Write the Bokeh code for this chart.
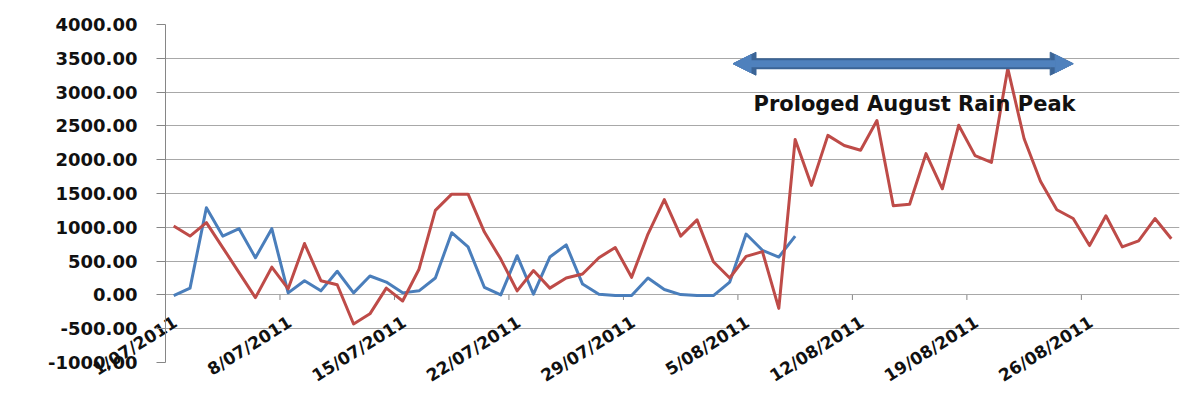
import math
from bokeh.plotting import figure
from bokeh.models import (Range1d, FixedTicker, NumeralTickFormatter, LinearAxis,
                          Label, Arrow, NormalHead)
from bokeh.embed import file_html
from bokeh.resources import INLINE

# ---- data ----
dates = [f"{d}/07/2011" for d in range(1, 32)] + [f"{d}/08/2011" for d in range(1, 32)]
blue_vals = [-10, 100, 1290, 870, 980, 550, 980, 30, 210, 60, 350, 30, 280, 190, 30, 60,
             250, 920, 710, 110, 0, 580, 10, 560, 740, 160, 10, -10, -10, 250, 80, 5,
             -10, -10, 190, 900, 660, 560, 870]
red_vals = [1020, 870, 1070, 700, 330, -40, 410, 90, 760, 210, 150, -430, -280, 100, -90,
            380, 1250, 1490, 1490, 930, 530, 60, 360, 100, 250, 310, 550, 700, 260, 900,
            1410, 870, 1110, 490, 250, 570, 640, -200, 2300, 1620, 2360, 2210, 2140, 2580,
            1320, 1340, 2090, 1570, 2510, 2060, 1960, 3350, 2310, 1680, 1260, 1130, 730,
            1170, 710, 800, 1130, 830]
x_tick_labels = ["1/07/2011", "8/07/2011", "15/07/2011", "22/07/2011", "29/07/2011",
                 "5/08/2011", "12/08/2011", "19/08/2011", "26/08/2011"]
y_ticks = [-1000, -500, 0, 500, 1000, 1500, 2000, 2500, 3000, 3500, 4000]
annotation_text = "Prologed August Rain Peak"

# category positions
idx_blue = list(range(len(blue_vals)))
idx_red = list(range(len(red_vals)))
n = len(dates)
tick_pos = [dates.index(lbl) - 0.5 for lbl in x_tick_labels]
label_shift = 0.6  # labels sit slightly right of the category boundary
label_pos = [t + label_shift for t in tick_pos]

BLUE = "#4a7ebb"
RED = "#be4b48"
GRID = "#a8a8a8"
FONT = "DejaVu Sans"

p = figure(width=1190, height=397,
           x_range=Range1d(-0.5, n - 0.5), y_range=Range1d(y_ticks[0], y_ticks[-1]),
           output_backend="svg", toolbar_location=None, x_axis_location=None,
           min_border_left=165, min_border_right=11, min_border_top=24, min_border_bottom=34)
p.outline_line_color = None
p.background_fill_color = "white"

yt = FixedTicker(ticks=y_ticks)
p.yaxis.ticker = yt
p.yaxis.formatter = NumeralTickFormatter(format="0.00")
p.yaxis.axis_line_color = "#868686"
p.yaxis.major_tick_line_color = "#868686"
p.yaxis.major_tick_out = 9
p.yaxis.major_tick_in = 0
p.yaxis.minor_tick_line_color = None
p.yaxis.major_label_standoff = 19
p.yaxis.major_label_text_font = FONT
p.yaxis.major_label_text_font_style = "bold"
p.yaxis.major_label_text_font_size = "18px"
p.yaxis.major_label_text_color = "#111111"

# bottom axis carrying only the rotated date labels
xax = LinearAxis(ticker=FixedTicker(ticks=label_pos),
                 major_label_overrides={lp: t for lp, t in zip(label_pos, x_tick_labels)},
                 major_label_orientation=32 * math.pi / 180,
                 major_label_standoff=-42,
                 axis_line_color=None, major_tick_line_color=None,
                 minor_tick_line_color=None,
                 major_tick_in=0, major_tick_out=0,
                 major_label_text_font=FONT, major_label_text_font_style="bold",
                 major_label_text_font_size="17px", major_label_text_color="#111111")
p.add_layout(xax, "below")

p.xgrid.visible = False
p.ygrid.ticker = yt
p.ygrid.grid_line_color = GRID
p.ygrid.grid_line_width = 1

# small category tick marks on the zero line
p.segment(x0=tick_pos, y0=[0] * len(tick_pos), x1=tick_pos, y1=[-75] * len(tick_pos),
          line_color="#868686", line_width=1)

p.line(idx_blue, blue_vals, line_color=BLUE, line_width=3, line_join="round")
p.line(idx_red, red_vals, line_color=RED, line_width=3, line_join="round")

# double-headed arrow
arrow_x0, arrow_x1, arrow_y = 34.2, 55.0, 3420
p.add_layout(Arrow(x_start=arrow_x0, y_start=arrow_y, x_end=arrow_x1, y_end=arrow_y,
                   line_color="#3b6496", line_width=11,
                   start=NormalHead(size=23, fill_color="#3b6496", line_color="#3b6496"),
                   end=NormalHead(size=23, fill_color="#3b6496", line_color="#3b6496")))
p.add_layout(Arrow(x_start=arrow_x0, y_start=arrow_y, x_end=arrow_x1, y_end=arrow_y,
                   line_color="#4f81bd", line_width=7,
                   start=NormalHead(size=18, fill_color="#4f81bd", line_color="#4f81bd"),
                   end=NormalHead(size=18, fill_color="#4f81bd", line_color="#4f81bd")))

p.add_layout(Label(x=45.3, y=2830, text=annotation_text, text_align="center",
                   text_baseline="alphabetic", text_font=FONT, text_font_style="bold",
                   text_font_size="21px", text_color="#111111"))

open("out.html", "w").write(file_html(p, INLINE))
